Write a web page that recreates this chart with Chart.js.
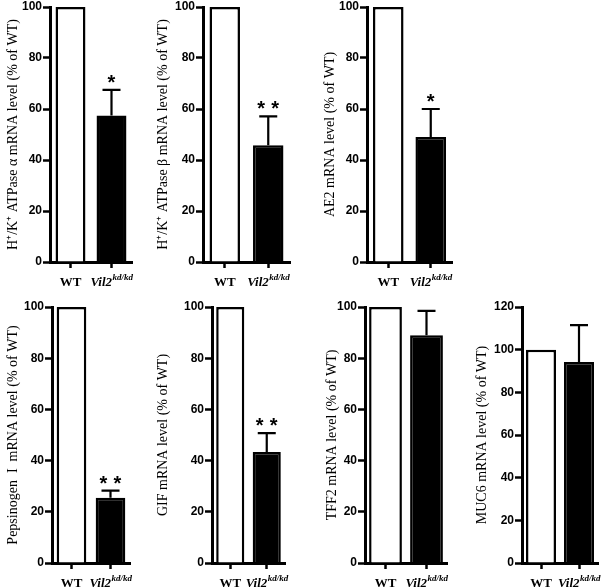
<!DOCTYPE html>
<html>
<head>
<meta charset="utf-8">
<script src="https://cdn.jsdelivr.net/npm/chart.js@4.4.0/dist/chart.umd.min.js"></script>
<style>
  body { margin: 0; background: #fff; }
  #wrap { position: relative; width: 609px; height: 587px; overflow: hidden; background: #fff; }
  #wrap canvas { position: absolute; }
</style>
</head>
<body>
<div id="wrap"></div>
<script>
// data
const groups = ["WT", "Vil2"];
const yTitles = [
    "H\u207A/K\u207A ATPase \u03B1 mRNA level (% of WT)",
    "H\u207A/K\u207A ATPase \u03B2 mRNA level (% of WT)",
    "AE2 mRNA level (% of WT)",
    "Pepsinogen  I  mRNA level (% of WT)",
    "GIF mRNA level (% of WT)",
    "TFF2 mRNA level (% of WT)",
    "MUC6 mRNA level (% of WT)"
];
const wtMeans = [100, 100, 100, 100, 100, 100, 100];
const kdMeans = [57.5, 45.8, 49, 25.5, 43.4, 89, 94.2];
const kdErrors = [10, 11.3, 11, 2.8, 7.3, 9.5, 17.3];
const signif = ["*", "* *", "*", "* *", "* *", "", ""];
const yMaxes = [100, 100, 100, 100, 100, 100, 120];

// layout per panel: left/top of canvas, axis x inside canvas, plot width, title centre, bar share
const panels = [
    { left: 0,   top: 0,   axis: 50, plotW: 82, titleX: 13, bar: 0.73 },
    { left: 150, top: 0,   axis: 53, plotW: 87, titleX: 13, bar: 0.70 },
    { left: 300, top: 0,   axis: 67, plotW: 85, titleX: 30, bar: 0.72 },
    { left: 0,   top: 300, axis: 52, plotW: 78, titleX: 13, bar: 0.76 },
    { left: 150, top: 300, axis: 62, plotW: 73, titleX: 13, bar: 0.77 },
    { left: 300, top: 300, axis: 65, plotW: 82, titleX: 32, bar: 0.80 },
    { left: 450, top: 300, axis: 72, plotW: 76, titleX: 32, bar: 0.79 }
];

const extras = {
    id: "extras",
    afterDatasetsDraw(chart, args, opts) {
        const ctx = chart.ctx;
        const y = chart.scales.y;
        const x = chart.scales.x;
        const kdBar = chart.getDatasetMeta(1).data[1];
        const top = y.getPixelForValue(opts.mean + opts.err);
        const base = y.getPixelForValue(opts.mean);
        ctx.save();
        ctx.strokeStyle = "#000";
        ctx.lineWidth = 2.2;
        ctx.beginPath();
        ctx.moveTo(kdBar.x, base);
        ctx.lineTo(kdBar.x, top);
        ctx.moveTo(kdBar.x - 9, top);
        ctx.lineTo(kdBar.x + 9, top);
        ctx.stroke();

        ctx.fillStyle = "#000";
        ctx.font = "bold 20px 'Liberation Sans', Arial, sans-serif";
        ctx.textAlign = "center";
        ctx.textBaseline = "alphabetic";
        if (opts.mark === "*") {
            ctx.fillText("*", kdBar.x, top - 1);
        } else if (opts.mark === "* *") {
            ctx.fillText("*", kdBar.x - 7, top - 1);
            ctx.fillText("*", kdBar.x + 7, top - 1);
        }

        // group labels under the axis
        const ly = chart.chartArea.bottom + 21;
        ctx.textBaseline = "middle";
        ctx.font = "bold 13px 'Liberation Serif', 'Times New Roman', serif";
        ctx.fillText(groups[0], x.getPixelForValue(0), ly);

        const mainFont = "italic bold 13px 'Liberation Serif', 'Times New Roman', serif";
        const supFont = "italic bold 9px 'Liberation Serif', 'Times New Roman', serif";
        ctx.font = mainFont;
        const w1 = ctx.measureText(groups[1]).width;
        ctx.font = supFont;
        const w2 = ctx.measureText("kd/kd").width;
        const sx = x.getPixelForValue(1) - (w1 + w2) / 2;
        ctx.textAlign = "left";
        ctx.font = mainFont;
        ctx.fillText(groups[1], sx, ly);
        ctx.font = supFont;
        ctx.fillText("kd/kd", sx + w1 + 0.5, ly - 5);
        ctx.restore();
    }
};

const wrap = document.getElementById("wrap");

panels.forEach((p, i) => {
    const W = p.axis + p.plotW + 10;
    const H = p.top === 0 ? 295 : 287;
    const xH = p.top === 0 ? 33 : 24;
    const cv = document.createElement("canvas");
    cv.width = W;
    cv.height = H;
    cv.style.left = p.left + "px";
    cv.style.top = p.top + "px";
    cv.style.width = W + "px";
    cv.style.height = H + "px";
    wrap.appendChild(cv);

    new Chart(cv.getContext("2d"), {
        type: "bar",
        data: {
            labels: groups,
            datasets: [
                {
                    data: [wtMeans[i], null],
                    backgroundColor: "#ffffff",
                    borderColor: "#000000",
                    borderWidth: 2.5,
                    barPercentage: p.bar,
                    categoryPercentage: 1,
                    grouped: false
                },
                {
                    data: [null, kdMeans[i]],
                    backgroundColor: "#000000",
                    borderColor: "#000000",
                    borderWidth: 2.5,
                    barPercentage: p.bar,
                    categoryPercentage: 1,
                    grouped: false
                }
            ]
        },
        options: {
            responsive: false,
            animation: false,
            layout: { padding: { left: 0, top: 7, right: 10, bottom: 0 } },
            plugins: {
                legend: { display: false },
                tooltip: { enabled: false },
                extras: { mean: kdMeans[i], err: kdErrors[i], mark: signif[i] }
            },
            scales: {
                x: {
                    grid: {
                        offset: false,
                        drawOnChartArea: false,
                        drawTicks: true,
                        tickLength: 6,
                        tickWidth: 2.5,
                        tickColor: "#000"
                    },
                    border: { display: true, color: "#000", width: 3 },
                    ticks: { display: false },
                    afterFit(s) {
                        s.height = xH;
                        s.paddingLeft = 0;
                        s.paddingRight = 0;
                    }
                },
                y: {
                    min: 0,
                    max: yMaxes[i],
                    ticks: {
                        stepSize: 20,
                        color: "#000",
                        padding: 1,
                        font: { family: "'Liberation Sans', Arial, sans-serif", size: 12, weight: "bold" }
                    },
                    grid: {
                        drawOnChartArea: false,
                        tickLength: 7,
                        tickWidth: 2.5,
                        tickColor: "#000"
                    },
                    border: { display: true, color: "#000", width: 3 },
                    title: {
                        display: true,
                        text: yTitles[i],
                        color: "#000",
                        padding: { top: p.titleX - 8.4, bottom: 0 },
                        font: { family: "'Liberation Serif', 'Times New Roman', serif", size: 14, weight: "normal" }
                    },
                    afterFit(s) {
                        s.width = p.axis;
                        s.paddingTop = 0;
                        s.paddingBottom = 0;
                    }
                }
            }
        },
        plugins: [extras]
    });
});
</script>
</body>
</html>
